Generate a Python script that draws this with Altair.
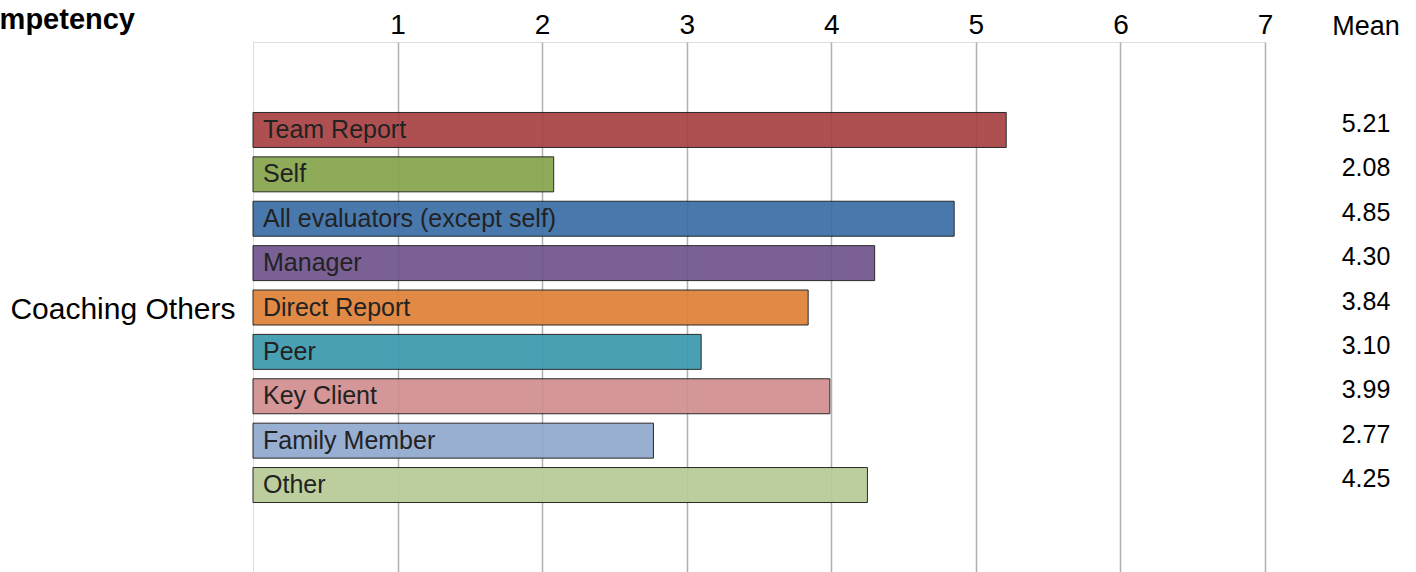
import altair as alt
import pandas as pd

categories = ["Team Report", "Self", "All evaluators (except self)", "Manager",
              "Direct Report", "Peer", "Key Client", "Family Member", "Other"]
means = [5.21, 2.08, 4.85, 4.30, 3.84, 3.10, 3.99, 2.77, 4.25]
colors = ["#a84344", "#87a54e", "#3c6ea7", "#70558d", "#de8239",
          "#3c99ae", "#d18f8f", "#91a9cf", "#b7cb96"]
tick_values = [1, 2, 3, 4, 5, 6, 7]
competency = "Coaching Others"

df = pd.DataFrame({
    "category": categories,
    "mean": means,
    "label": [f"{m:.2f}" for m in means],
})

FONT = "Liberation Sans"

# empty spacer slots above and below the bars
y_domain = [" "] + categories + ["  "]
y_scale = alt.Scale(domain=y_domain, paddingInner=0.212, paddingOuter=0.588)

y_enc = alt.Y(
    "category:N",
    scale=y_scale,
    axis=alt.Axis(
        labels=False, ticks=False, domain=False, grid=False,
        title=competency, titleAngle=0, titleAlign="right",
        titleBaseline="alphabetic", titleX=-18, titleY=276,
        titleFont=FONT, titleFontSize=30, titleFontWeight="normal",
        titleColor="#000000",
    ),
)

x_enc = alt.X(
    "mean:Q",
    scale=alt.Scale(domain=[0, 7], nice=False, zero=True),
    axis=alt.Axis(
        orient="top", values=tick_values, format="d", title=None,
        ticks=False, tickSize=0, domain=False, grid=True,
        gridColor="#b0b0b0", gridWidth=1.5,
        labelFont=FONT, labelFontSize=28, labelColor="#000000",
        labelPadding=3, labelFlush=False, labelOverlap=False,
    ),
)

base = alt.Chart(df)

bars = base.mark_bar(
    stroke="#1a1a1a", strokeWidth=1, opacity=0.93, cornerRadius=0
).encode(
    x=x_enc,
    y=y_enc,
    color=alt.Color("category:N", scale=alt.Scale(domain=categories, range=colors), legend=None),
)

bar_text = base.mark_text(
    align="left", baseline="middle", dx=10, font=FONT, fontSize=25, color="#222222"
).encode(
    x=alt.datum(0),
    y=alt.Y("category:N"),
    text="category:N",
)

mean_text = base.mark_text(
    align="center", baseline="alphabetic", dy=2, font=FONT, fontSize=25, color="#000000"
).encode(
    x=alt.value(1113),
    y=alt.Y("category:N"),
    text="label:N",
)

mean_header = alt.Chart(pd.DataFrame({"t": ["Mean"]})).mark_text(
    align="center", baseline="alphabetic", font=FONT, fontSize=27, color="#000000"
).encode(
    x=alt.value(1113), y=alt.value(-7), text="t:N"
)

comp_header = alt.Chart(pd.DataFrame({"t": ["Competency"]})).mark_text(
    align="right", baseline="alphabetic", font=FONT, fontSize=29, fontWeight="bold", color="#000000"
).encode(
    x=alt.value(-118), y=alt.value(-13), text="t:N"
)

chart = alt.layer(bars, bar_text, mean_text, mean_header, comp_header).properties(
    width=1012,
    height=531,
    autosize=alt.AutoSizeParams(type="none"),
    padding={"left": 253, "top": 42, "right": 151, "bottom": 0},
).configure_view(
    stroke="#b0b0b0", strokeWidth=1.5
).configure(background="#ffffff")

chart.save("out.html", embed_options={"renderer": "svg", "actions": False})
